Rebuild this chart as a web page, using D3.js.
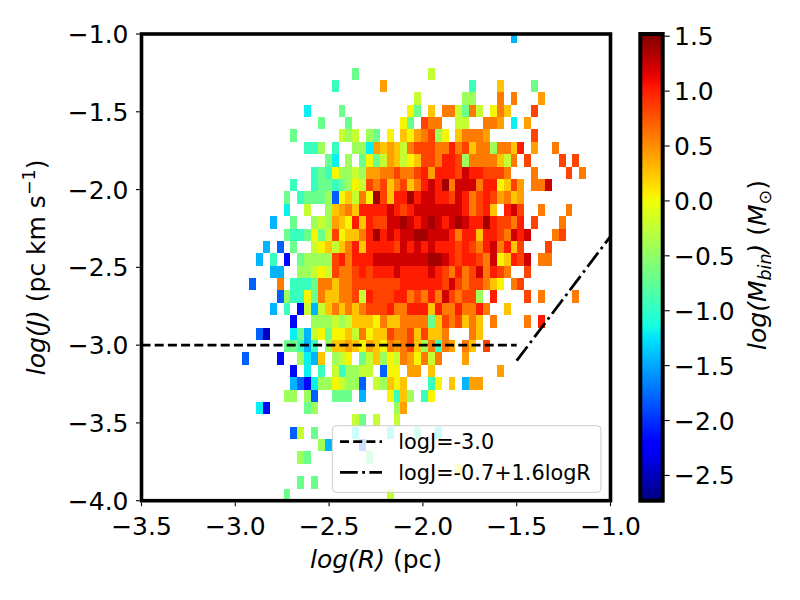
<!DOCTYPE html>
<html>
<head>
<meta charset="utf-8">
<script src="https://cdn.jsdelivr.net/npm/d3@7"></script>
<style>
  body { margin: 0; background: #fff; }
  text { font-family: "DejaVu Sans", sans-serif; fill: #000; }
</style>
</head>
<body>
<svg id="chart" width="800" height="600"></svg>
<script>
// 2D histogram of log(J) vs log(R), colour = log of summed mass per bin

// bin grid (data units)
var xBinStart = -2.963, xBinStep = 0.03667, nCols = 50;
var yBinTop = -0.977, yBinStep = 0.0796;

// colour levels: code -> log(M_bin)
var levelCodes  = ["N", "B", "b", "C", "c", "T", "g", "G", "l", "y", "Y", "o", "O", "r", "R", "d", "D"];
var levelValues = [-2.5, -2.17, -1.8, -1.45, -1.2, -0.95, -0.69, -0.43, -0.22, 0.03, 0.25, 0.42, 0.59, 0.84, 1.01, 1.22, 1.39];

// one entry per row (top to bottom): "<column><level code>"
var binRows = [
  "39C",
  "",
  "",
  "16g 27l",
  "13T 20o 33T 37Y 42g",
  "25l 32G 33G 37O 39O 43o",
  "9c 14g 24y 25g 27Y 29O 30O 31l 32g 33O 34l 36y 37O 38Y 42r",
  "11g 15g 23y 24g 26r 27O 28O 31l 32l 35O 36O 37o 39c 41o",
  "7g 14l 15G 16l 18G 19g 21y 23Y 24y 25o 26O 27r 28G 29y 31Y 32O 33O 34O 35o 42r",
  "9T 10T 11G 13T 16G 17G 18c 19o 20Y 21o 22Y 23l 24O 25r 26r 27r 28O 29O 30R 31O 32r 33Y 34O 35O 36G 37O 38O 39Y 40R 42o 45O",
  "12g 13c 15G 17g 18y 19g 20l 21o 22Y 23l 24y 25Y 26r 27r 28O 29R 30R 31r 32G 33O 34O 35O 36O 37Y 38l 39O 41r 46r 48r",
  "10T 11g 12T 13y 14G 15G 16l 17G 18o 19o 20O 21O 22r 23O 24O 25r 26R 27o 28R 29R 30R 31r 32d 33R 34R 35r 36r 37r 38O 42O 47r 49O",
  "7T 10T 11g 12g 13T 14g 15G 16y 17l 18r 19O 20r 21Y 22O 23r 24Y 25O 26R 27d 28R 29D 30O 31d 32d 33d 34O 35R 36R 37y 38Y 39r 40o 42O 43O 44d",
  "6g 8T 9g 10g 11g 12G 13b 14y 15Y 16l 17O 18y 19D 20r 21Y 22R 23R 24D 25R 26d 27d 28R 29R 30r 31d 32R 33O 34r 35R 36r 37o 38O 39Y 40o",
  "6c 9l 12G 13Y 14o 15O 16Y 17R 18R 19R 20R 21d 22R 23r 24R 25d 26d 27d 28d 29d 30d 31d 32R 33O 34r 35R 36Y 38R 39d 40r 43O 47O",
  "4C 7g 10G 11l 12G 13o 14Y 15y 16R 17Y 18R 19r 20r 21d 22d 23D 24d 25R 26d 27D 28d 29R 30d 31D 32d 33R 34R 35D 36R 37r 38r 39O 40R 42r 46O",
  "6g 7T 8T 9g 10y 11g 12l 13r 14y 15Y 16Y 17O 18R 19D 20R 21d 22R 23d 24d 25D 26D 27d 28d 29d 30R 31O 32R 33R 34Y 35R 36R 37r 38O 39d 40R 41d 45O 46r",
  "3C 5b 7g 10l 11y 12Y 13l 14Y 15O 16R 17Y 18R 19R 20R 21R 22r 23d 24R 25d 26R 27d 28R 29R 30R 31r 32R 33r 34O 35R 36d 37O 38R 39Y 40r 44r",
  "2C 4T 6B 8g 9G 10G 11G 12G 13r 14R 15O 16R 17R 18R 19d 20d 21d 22d 23d 24d 25d 26d 27D 28D 29d 30R 31r 32R 33R 34r 35O 36d 37y 38Y 39R 40r 41d 43O 44O",
  "4C 5C 8G 9G 10l 11y 12l 13r 14O 15O 16r 17R 18r 19R 20R 21R 22d 23R 24R 25R 26R 27d 28R 29r 30O 31R 32O 33r 34d 35O 36R 37r 38O 41r",
  "1b 5O 7T 8T 9T 10g 11O 12O 13Y 14O 15O 16r 17r 18r 19r 20r 21r 22r 23R 24R 25R 26R 27R 28R 29r 30d 31r 32O 33r 34r 35O 36Y 37y 39O 40r",
  "5b 6G 7T 8T 9y 10g 11O 12Y 13Y 14O 15O 16r 17l 18R 19r 20r 21r 22R 23R 24O 25r 26O 27R 28O 29d 30r 31O 32r 33r 34G 36R 41r 43O 48O",
  "4C 6T 8B 9l 10C 11l 12Y 13O 14Y 15O 16Y 17O 18r 19r 20r 21R 22O 23O 24R 25R 26R 27Y 28R 29O 30O 31R 32O 33O 34R 35O 38Y",
  "7B 10G 11G 12G 13l 14G 15l 16Y 17Y 18Y 19y 20O 21Y 22Y 23O 24O 25O 26O 27g 28Y 29r 30O 31r 32Y 33O 34Y 36O 41O 43R",
  "2b 3N 7c 8g 9C 10l 11y 12g 13y 14y 15Y 16l 17O 18y 19Y 20Y 21r 22O 23O 24r 25Y 26r 27Y 28Y 29O 33O 34Y",
  "6g 7g 8T 9C 10T 12G 13Y 14Y 15o 16Y 17y 18o 19Y 20y 21O 22o 23O 24r 25Y 26G 27O 28T 29O 30o 32O 33Y 35r",
  "0b 5B 8G 9c 10C 11Y 13G 14l 15y 17g 18l 19Y 20G 21y 22l 23O 24o 25y 26O 27l 28O 32o",
  "7B 9c 11T 13l 14T 15G 16G 17l 18l 20b 21y 22y 24o 25o 27Y 37o",
  "7C 8b 9B 10c 11G 12G 13y 14l 15G 16G 17b 19l 20G 21Y 22y 23Y 27T 28y 30Y 32C 33o 34o",
  "6G 7G 9G 10b 13g 14g 15g 17C 21y 22T 23Y 24G 26T 27y",
  "2c 3B 9g 10G 22G 23o",
  "16l 17g 19l 22l",
  "7b 8l 10g 16c 21c 25T 28c",
  "11G 12C 17b",
  "8G 9g 18g",
  "31y",
  "8g 10g",
  "6g 21l"
];

var xTicks = [-3.5, -3.0, -2.5, -2.0, -1.5, -1.0];
var yTicks = [-1.0, -1.5, -2.0, -2.5, -3.0, -3.5, -4.0];
var cbarTicks = [1.5, 1.0, 0.5, 0.0, -0.5, -1.0, -1.5, -2.0, -2.5];
var colorRange = [-2.73, 1.52];

// reference lines
var flatLineX = [-3.5, -1.5], flatLineY = [-3.0, -3.0];
var fitLineX = [-1.5, -1.0], fitLineY = [-3.1, -2.3];
var legendLabels = ["logJ=-3.0", "logJ=-0.7+1.6logR"];

// ---------------------------------------------------------------
var svg = d3.select("#chart");
var plotLeft = 141.5, plotRight = 610.5, plotTop = 34, plotBottom = 500.7;

var x = d3.scaleLinear().domain([-3.5, -1.0]).range([plotLeft, plotRight]);
var y = d3.scaleLinear().domain([-1.0, -4.0]).range([plotTop, plotBottom]);

// matplotlib "jet"
var jetR = d3.scaleLinear().domain([0, 0.35, 0.66, 0.89, 1]).range([0, 0, 1, 1, 0.5]).clamp(true);
var jetG = d3.scaleLinear().domain([0, 0.125, 0.375, 0.64, 0.91, 1]).range([0, 0, 1, 1, 0, 0]).clamp(true);
var jetB = d3.scaleLinear().domain([0, 0.11, 0.34, 0.65, 1]).range([0.5, 1, 1, 0, 0]).clamp(true);
function jet(t) {
  return d3.rgb(jetR(t) * 255, jetG(t) * 255, jetB(t) * 255).toString();
}
var norm = d3.scaleLinear().domain(colorRange).range([0, 1]).clamp(true);
var color = function (v) { return jet(norm(v)); };

// parse rows into cells
var cells = [];
binRows.forEach(function (row, r) {
  var re = /(\d+)([A-Za-z])/g, m;
  while ((m = re.exec(row)) !== null) {
    var c = +m[1];
    cells.push({
      col: c, row: r,
      x0: xBinStart + c * xBinStep,
      x1: xBinStart + (c + 1) * xBinStep,
      y0: yBinTop - r * yBinStep,
      y1: yBinTop - (r + 1) * yBinStep,
      value: levelValues[levelCodes.indexOf(m[2])]
    });
  }
});

var defs = svg.append("defs");
defs.append("clipPath").attr("id", "plotClip")
  .append("rect")
  .attr("x", plotLeft).attr("y", plotTop)
  .attr("width", plotRight - plotLeft).attr("height", plotBottom - plotTop);

var plot = svg.append("g").attr("clip-path", "url(#plotClip)");

plot.selectAll(".cell")
  .data(cells)
  .enter()
  .append("rect")
  .attr("class", "cell")
  .attr("x", function (d) { return Math.round(x(d.x0)); })
  .attr("y", function (d) { return Math.round(y(d.y0)); })
  .attr("width", function (d) { return Math.round(x(d.x1)) - Math.round(x(d.x0)); })
  .attr("height", function (d) { return Math.round(y(d.y1)) - Math.round(y(d.y0)); })
  .attr("shape-rendering", "crispEdges")
  .style("fill", function (d) { return color(d.value); });

var line = d3.line().x(function (d) { return x(d[0]); }).y(function (d) { return y(d[1]); });

plot.append("path")
  .datum(d3.zip(flatLineX, flatLineY))
  .attr("d", line)
  .attr("fill", "none").attr("stroke", "#000").attr("stroke-width", 2.8)
  .attr("stroke-dasharray", "9,4.2");

plot.append("path")
  .datum(d3.zip(fitLineX, fitLineY))
  .attr("d", line)
  .attr("fill", "none").attr("stroke", "#000").attr("stroke-width", 2.8)
  .attr("stroke-dasharray", "17.8,4.4,2.8,4.4");

// legend
var legend = svg.append("g");
legend.append("rect")
  .attr("x", 332.3).attr("y", 425.7).attr("width", 268.7).attr("height", 66.6)
  .attr("rx", 4).attr("ry", 4)
  .attr("fill", "#fff").attr("fill-opacity", 0.8)
  .attr("stroke", "#cccccc").attr("stroke-width", 1);
var legendDash = ["9,4.2", "17.8,4.4,2.8,4.4"];
legendLabels.forEach(function (lab, i) {
  var ly = 441.7 + i * 30.6;
  legend.append("line")
    .attr("x1", 340).attr("x2", 382).attr("y1", ly).attr("y2", ly)
    .attr("stroke", "#000").attr("stroke-width", 2.8)
    .attr("stroke-dasharray", legendDash[i]);
  legend.append("text")
    .attr("x", 398.3).attr("y", ly + 7.6)
    .style("font-size", "20.8px")
    .text(lab);
});

// frame
svg.append("rect")
  .attr("x", plotLeft).attr("y", plotTop)
  .attr("width", plotRight - plotLeft).attr("height", plotBottom - plotTop)
  .attr("fill", "none").attr("stroke", "#000").attr("stroke-width", 3.6);

var fmt = d3.format(".1f");

// x ticks
var gx = svg.append("g");
xTicks.forEach(function (t) {
  gx.append("line").attr("x1", x(t)).attr("x2", x(t))
    .attr("y1", plotBottom + 1.8).attr("y2", plotBottom + 5.5)
    .attr("stroke", "#000").attr("stroke-width", 1.1);
  gx.append("text").attr("x", x(t)).attr("y", 535)
    .attr("text-anchor", "middle").style("font-size", "25px")
    .text(fmt(t));
});

// y ticks
var gy = svg.append("g");
yTicks.forEach(function (t) {
  gy.append("line").attr("x1", plotLeft - 1.8).attr("x2", plotLeft - 5.5)
    .attr("y1", y(t)).attr("y2", y(t))
    .attr("stroke", "#000").attr("stroke-width", 1.1);
  gy.append("text").attr("x", 128.5).attr("y", y(t) + 9)
    .attr("text-anchor", "end").style("font-size", "25px")
    .text(fmt(t));
});

// axis labels
var xl = svg.append("text").attr("x", (plotLeft + plotRight) / 2).attr("y", 568)
  .attr("text-anchor", "middle").style("font-size", "25px");
xl.append("tspan").style("font-style", "italic").text("log(R)");
xl.append("tspan").text(" (pc)");

var yl = svg.append("text")
  .attr("transform", "translate(45," + ((plotTop + plotBottom) / 2) + ") rotate(-90)")
  .attr("text-anchor", "middle").style("font-size", "25px");
yl.append("tspan").style("font-style", "italic").text("log(J)");
yl.append("tspan").text(" (pc km s");
yl.append("tspan").attr("dy", -10).style("font-size", "17.5px").text("\u22121");
yl.append("tspan").attr("dy", 10).text(")");

// colorbar
var cbX = 640.3, cbW = 22.4;
var yc = d3.scaleLinear().domain(colorRange).range([plotBottom, plotTop]);
var grad = defs.append("linearGradient").attr("id", "jetGrad")
  .attr("x1", 0).attr("y1", 1).attr("x2", 0).attr("y2", 0);
d3.range(0, 1.0001, 1 / 64).forEach(function (t) {
  grad.append("stop").attr("offset", t).attr("stop-color", jet(t));
});
svg.append("rect")
  .attr("x", cbX).attr("y", plotTop).attr("width", cbW).attr("height", plotBottom - plotTop)
  .attr("fill", "url(#jetGrad)");
svg.append("rect")
  .attr("x", cbX).attr("y", plotTop).attr("width", cbW).attr("height", plotBottom - plotTop)
  .attr("fill", "none").attr("stroke", "#000").attr("stroke-width", 4);

cbarTicks.forEach(function (t) {
  svg.append("line").attr("x1", cbX + cbW + 1.8).attr("x2", cbX + cbW + 7)
    .attr("y1", yc(t)).attr("y2", yc(t))
    .attr("stroke", "#000").attr("stroke-width", 1.1);
  svg.append("text").attr("x", 674).attr("y", yc(t) + 9)
    .style("font-size", "25px")
    .text(fmt(t));
});

var cl = svg.append("text")
  .attr("transform", "translate(766,265) rotate(-90)")
  .attr("text-anchor", "middle").style("font-size", "25px");
cl.append("tspan").style("font-style", "italic").text("log(M");
cl.append("tspan").attr("dy", 5).style("font-size", "17.5px").style("font-style", "italic").text("bin");
cl.append("tspan").attr("dy", -5).style("font-style", "italic").text(")");
cl.append("tspan").text(" (");
cl.append("tspan").style("font-style", "italic").text("M");
cl.append("tspan").attr("dy", 5).style("font-size", "17.5px").text("\u2299");
cl.append("tspan").attr("dy", -5).text(")");
</script>
</body>
</html>
